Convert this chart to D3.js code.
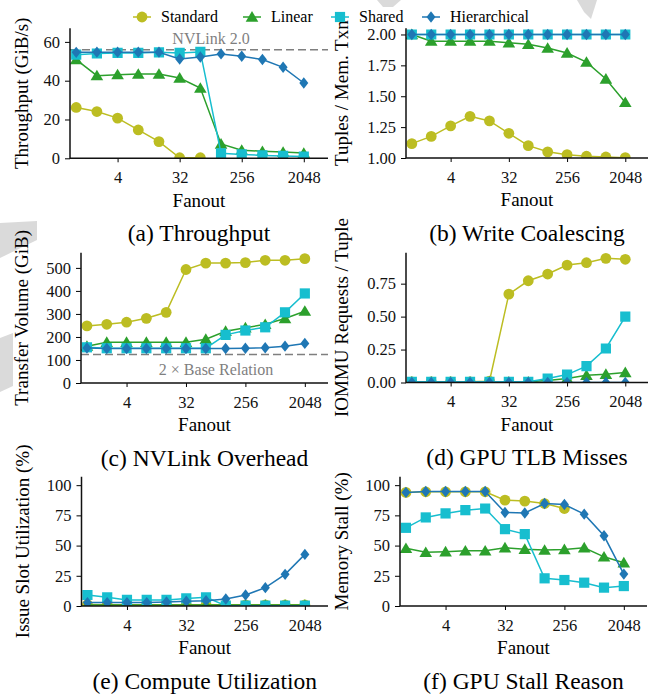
<!DOCTYPE html>
<html>
<head>
<meta charset="utf-8">
<script src="https://cdn.jsdelivr.net/npm/d3@7"></script>
<style>
  body { margin: 0; background: #fff; }
  svg { display: block; font-family: "Liberation Serif", "DejaVu Serif", serif; }
</style>
</head>
<body>
<svg width="655" height="696"></svg>
<script>
'use strict';

// ---- data ----
const fanouts = [1, 2, 4, 8, 16, 32, 64, 128, 256, 512, 1024, 2048];
const fanoutTicks = [4, 32, 256, 2048];
const seriesNames = ["Standard", "Linear", "Shared", "Hierarchical"];

// (a) throughput, GiB/s
const throughputStandard = [26.2, 24.1, 20.7, 14.6, 8.6, 0.3, 0.3];
const throughputLinear = [50.9, 42.6, 43.1, 43.4, 43.4, 41.4, 36.2, 7.4, 4.2, 3.6, 3.2, 2.7];
const throughputShared = [53.4, 54.0, 54.3, 54.3, 54.6, 54.3, 54.8, 2.6, 2.0, 1.5, 1.2, 0.9];
const throughputHierarchical = [54.6, 54.7, 54.7, 54.7, 54.7, 51.2, 52.2, 53.8, 52.6, 50.9, 46.9, 38.8];
const nvlinkBandwidth = 56;

// (b) tuples per memory transaction
const coalescingStandard = [1.116, 1.175, 1.26, 1.337, 1.30, 1.20, 1.10, 1.05, 1.027, 1.014, 1.008, 1.003];
const coalescingLinear = [2.0, 1.946, 1.946, 1.946, 1.946, 1.933, 1.92, 1.89, 1.85, 1.776, 1.64, 1.45];
const coalescingShared = [2, 2, 2, 2, 2, 2, 2, 2, 2, 2, 2, 2];
const coalescingHierarchical = [2, 2, 2, 2, 2, 2, 2, 2, 2, 2, 2, 2];

// (c) transfer volume, GiB
const transferStandard = [248, 255, 264, 281, 307, 493, 521, 521, 523, 533, 533, 540];
const transferLinear = [160, 177, 177, 177, 177, 177, 190, 225, 240, 255, 280, 312];
const transferShared = [155, 151, 151, 151, 151, 151, 151, 209, 228, 242, 307, 389];
const transferHierarchical = [152, 150, 150, 150, 150, 150, 150, 150, 151, 153, 160, 172];
const baseRelationTwice = 124;

// (d) IOMMU requests per tuple
const iommuStandard = [0.005, 0.005, 0.005, 0.005, 0.01, 0.671, 0.772, 0.823, 0.891, 0.909, 0.942, 0.935];
const iommuLinear = [0.005, 0.005, 0.005, 0.005, 0.005, 0.005, 0.005, 0.015, 0.03, 0.055, 0.063, 0.076];
const iommuShared = [0.005, 0.005, 0.005, 0.005, 0.005, 0.005, 0.005, 0.03, 0.06, 0.124, 0.258, 0.50];
const iommuHierarchical = [0, 0, 0, 0, 0, 0, 0, 0, 0, 0, 0, 0];

// (e) issue slot utilization, %
const issueStandard = [1.2, 1.1, 1.0, 1.0, 1.0, 1.0, 1.0, 1.0, 1.0, 1.0, 1.0, 1.0];
const issueLinear = [0.8, 0.8, 0.8, 0.8, 0.8, 0.8, 0.8, 0.8, 0.8, 0.8, 0.8, 0.8];
const issueShared = [9.1, 7.2, 5.0, 5.0, 5.0, 6.3, 7.2, 0.3, 0.3, 0.3, 0.3, 0.3];
const issueHierarchical = [2.8, 2.8, 2.8, 2.8, 3.3, 3.9, 4.4, 5.8, 9.1, 15.2, 26.2, 42.7];

// (f) memory stall, %
const stallStandard = [94, 94.5, 94.5, 94.5, 94.5, 87.6, 86.8, 84.8, 80.7];
const stallLinear = [47.7, 44.4, 44.9, 45.7, 45.7, 48.2, 47, 46.3, 46.8, 48.2, 40.7, 35.8];
const stallShared = [64.7, 73.3, 76.6, 79.3, 80.7, 63.6, 59.5, 22.9, 21.5, 19.3, 15.2, 16.5];
const stallHierarchical = [94, 94.8, 94.8, 94.8, 94.8, 77.4, 77, 84.8, 84, 76, 58.1, 26.4];

(function() {
    let svg = d3.select("svg");
    let colors = ["#bcbd22", "#2ca02c", "#17becf", "#1f77b4"];
    let markers = ["circle", "triangle", "square", "diamond"];
    let refColor = "#7f7f7f";

    // faint watermark shapes behind the figure
    let watermark = [
        [[0, 223], [37, 221], [37, 240], [0, 258]],
        [[0, 338], [13, 333], [13, 386], [0, 392]],
        [[377, 0], [401, 0], [393, 7], [383, 7]],
        [[577, 0], [597, 0], [591, 19], [584, 12]]
    ];
    svg.selectAll("polygon.wm").data(watermark).join("polygon")
        .attr("points", d => d.map(p => p.join(",")).join(" "))
        .attr("fill", "#dadada");

    function markerPath(type) {
        if (type === "circle") return "M5.4,0A5.4,5.4 0 1,1 -5.4,0A5.4,5.4 0 1,1 5.4,0Z";
        if (type === "square") return "M-5.1,-5.1H5.1V5.1H-5.1Z";
        if (type === "triangle") return "M0,-5.9L6.3,4.7L-6.3,4.7Z";
        return "M0,-5.7L4.5,0L0,5.7L-4.5,0Z";
    }

    let panels = [
        {x0: 70, x1: 328, yTop: 28.3, yBottom: 158.3, domain: [0, 67], ticks: [0, 20, 40, 60], fmt: d3.format("d"),
         yLabel: "Throughput (GiB/s)", labelX: 22, title: "(a) Throughput",
         series: [throughputStandard, throughputLinear, throughputShared, throughputHierarchical],
         ref: nvlinkBandwidth, refText: "NVLink 2.0", refTextX: 211, refTextDy: -10.5},
        {x0: 406, x1: 648, yTop: 28.3, yBottom: 158, domain: [1, 2.05], ticks: [1, 1.25, 1.5, 1.75, 2], fmt: d3.format(".2f"),
         yLabel: "Tuples / Mem. Txn", labelX: 342, title: "(b) Write Coalescing",
         series: [coalescingStandard, coalescingLinear, coalescingShared, coalescingHierarchical]},
        {x0: 81, x1: 328, yTop: 252.7, yBottom: 383, domain: [0, 566], ticks: [0, 100, 200, 300, 400, 500], fmt: d3.format("d"),
         yLabel: "Transfer Volume (GiB)", labelX: 22, title: "(c) NVLink Overhead",
         series: [transferStandard, transferLinear, transferShared, transferHierarchical],
         ref: baseRelationTwice, refText: "2 \u00d7  Base Relation", refTextX: 216, refTextDy: 15},
        {x0: 406, x1: 648, yTop: 252.7, yBottom: 382.5, domain: [0, 0.985], ticks: [0, 0.25, 0.5, 0.75], fmt: d3.format(".2f"),
         yLabel: "IOMMU Requests / Tuple", labelX: 342, title: "(d) GPU TLB Misses",
         series: [iommuStandard, iommuLinear, iommuShared, iommuHierarchical]},
        {x0: 81.5, x1: 328, yTop: 476.7, yBottom: 606, domain: [0, 107], ticks: [0, 25, 50, 75, 100], fmt: d3.format("d"),
         yLabel: "Issue Slot Utilization (%)", labelX: 23, title: "(e) Compute Utilization",
         series: [issueStandard, issueLinear, issueShared, issueHierarchical]},
        {x0: 400, x1: 647, yTop: 476.7, yBottom: 606, domain: [0, 107], ticks: [0, 25, 50, 75, 100], fmt: d3.format("d"),
         yLabel: "Memory Stall (%)", labelX: 342, title: "(f) GPU Stall Reason",
         series: [stallStandard, stallLinear, stallShared, stallHierarchical]}
    ];

    panels.forEach(drawPanel);

    function drawPanel(p, i) {
        let xScale = d3.scaleLog().base(2)
            .domain([Math.pow(2, -0.3), Math.pow(2, 12.17)])
            .range([p.x0, p.x1]);
        let yScale = d3.scaleLinear().domain(p.domain).range([p.yBottom, p.yTop]);
        let g = svg.append("g");

        let clipId = "clip" + i;
        g.append("clipPath").attr("id", clipId).append("rect")
            .attr("x", p.x0).attr("y", p.yTop)
            .attr("width", p.x1 - p.x0).attr("height", p.yBottom - p.yTop);

        let plot = g.append("g").attr("clip-path", `url(#${clipId})`);

        if (p.ref !== undefined) {
            plot.append("line")
                .attr("x1", p.x0).attr("x2", p.x1)
                .attr("y1", yScale(p.ref)).attr("y2", yScale(p.ref))
                .attr("stroke", refColor).attr("stroke-width", 1.5)
                .attr("stroke-dasharray", "8,4");
        }

        p.series.forEach(function(values, s) {
            let pts = values.map((v, k) => [fanouts[k], v]);
            let line = d3.line().x(d => xScale(d[0])).y(d => yScale(d[1]));
            plot.append("path")
                .attr("d", line(pts))
                .attr("fill", "none")
                .attr("stroke", colors[s])
                .attr("stroke-width", 1.5);
            plot.selectAll(null).data(pts).join("path")
                .attr("d", markerPath(markers[s]))
                .attr("transform", d => `translate(${xScale(d[0])},${yScale(d[1])})`)
                .attr("fill", colors[s]);
        });

        if (p.ref !== undefined) {
            g.append("text")
                .attr("x", p.refTextX)
                .attr("y", yScale(p.ref) + p.refTextDy)
                .attr("dy", "0.33em")
                .attr("text-anchor", "middle")
                .attr("fill", refColor)
                .style("font-size", "16px")
                .text(p.refText);
        }

        let yAxis = d3.axisLeft(yScale).tickValues(p.ticks).tickFormat(p.fmt).tickSize(5).tickPadding(5);
        let xAxis = d3.axisBottom(xScale).tickValues(fanoutTicks).tickFormat(d3.format("d")).tickSize(4).tickPadding(9);

        let ya = g.append("g").attr("transform", `translate(${p.x0},0)`).call(yAxis);
        let xa = g.append("g").attr("transform", `translate(0,${p.yBottom})`).call(xAxis);
        [ya, xa].forEach(function(a) {
            a.selectAll("text").style("font-size", "16.5px").attr("fill", "#111");
            a.attr("font-family", null).attr("font-size", null);
            a.select(".domain").remove();
        });
        g.append("path")
            .attr("d", `M${p.x0},${p.yTop}V${p.yBottom}H${p.x1}`)
            .attr("fill", "none").attr("stroke", "#111").attr("stroke-width", 1.5);

        let midY = (p.yTop + p.yBottom) / 2;
        let midX = (p.x0 + p.x1) / 2;
        g.append("text")
            .attr("transform", `translate(${p.labelX},${midY})rotate(-90)`)
            .attr("text-anchor", "middle")
            .attr("dy", "0.33em")
            .style("font-size", "19px")
            .text(p.yLabel);
        g.append("text")
            .attr("x", midX).attr("y", p.yBottom + 42)
            .attr("text-anchor", "middle")
            .attr("dy", "0.33em")
            .style("font-size", "19px")
            .text("Fanout");
        g.append("text")
            .attr("x", midX).attr("y", p.yBottom + 75)
            .attr("text-anchor", "middle")
            .attr("dy", "0.33em")
            .style("font-size", "23.5px")
            .text(p.title);
    }

    // legend
    let legendX = [142, 252, 340, 431];
    let legendY = 17;
    let leg = svg.append("g").selectAll("g").data(seriesNames).join("g")
        .attr("transform", (d, k) => `translate(${legendX[k]},${legendY})`);
    leg.append("line")
        .attr("x1", -9).attr("x2", 9)
        .attr("stroke", (d, k) => colors[k]).attr("stroke-width", 1.5);
    leg.append("path")
        .attr("d", (d, k) => markerPath(markers[k]))
        .attr("fill", (d, k) => colors[k]);
    leg.append("text")
        .attr("x", 19).attr("dy", "0.33em")
        .style("font-size", "16px")
        .text(d => d);
})();
</script>
</body>
</html>
